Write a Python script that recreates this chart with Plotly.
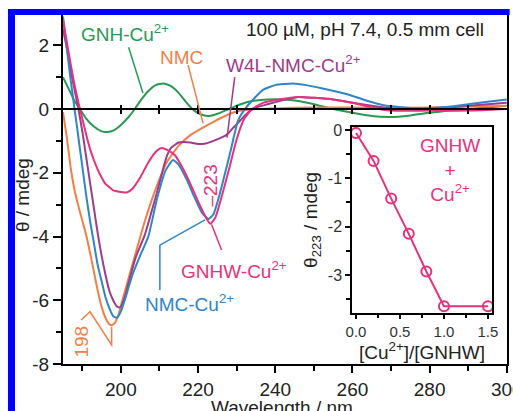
import plotly.graph_objects as go

# ---------------- data ----------------
wl_gnh = [185, 186, 187, 188, 189.4, 191, 193, 195, 196.5, 198, 200, 202, 203.6, 205, 207, 209, 211, 213, 215, 217, 219,
          221, 223, 225, 227, 229, 231, 234, 238, 242, 246, 250, 255, 260, 265, 270, 275, 280, 285, 290, 295, 300]
th_gnh = [1.0, 0.75, 0.5, 0.25, 0.0, -0.3, -0.55, -0.7, -0.72, -0.68, -0.5, -0.25, 0.0, 0.25, 0.55, 0.75, 0.8, 0.72, 0.5,
          0.2, -0.05, -0.18, -0.22, -0.15, -0.05, 0.05, 0.15, 0.25, 0.3, 0.3, 0.25, 0.15, 0.0, -0.12, -0.22, -0.25, -0.2,
          -0.12, -0.05, 0.0, 0.05, 0.1]

wl_nmc = [185, 186, 187, 188, 189, 190, 191, 192, 193, 194, 195, 196, 197, 197.7, 198.5, 199.5, 200.5, 202, 204, 206,
          208, 210, 212, 215, 218, 221, 224, 227, 230, 235, 240, 250, 260, 270, 280, 290, 300]
th_nmc = [-0.1, -0.9, -1.85, -2.55, -3.05, -3.5, -3.95, -4.5, -5.1, -5.7, -6.2, -6.55, -6.75, -6.78, -6.7, -6.4, -5.95,
          -5.3, -4.45, -3.6, -2.85, -2.2, -1.65, -1.15, -0.82, -0.6, -0.4, -0.22, -0.08, 0.0, 0.02, 0.05, 0.05, 0.03,
          0.05, 0.08, 0.1]

wl_w4l = [185, 186, 187, 188, 189, 190, 191, 192, 193, 194, 195, 196, 197, 198, 199, 199.8, 201, 202, 203, 204, 206.2,
          208, 209.6, 211, 212, 213, 215, 218, 220, 222, 224, 226, 227.5, 229, 231, 233, 235, 238, 242, 246, 250, 255,
          260, 265, 270, 275, 280, 285, 290, 295, 300]
th_w4l = [2.5, 1.9, 1.2, 0.6, 0.0, -0.7, -1.5, -2.3, -3.1, -3.9, -4.6, -5.2, -5.7, -6.0, -6.2, -6.22, -5.9, -5.45, -5.0,
          -4.6, -3.95, -3.2, -2.5, -1.85, -1.45, -1.22, -1.05, -1.05, -1.1, -1.08, -1.0, -0.9, -0.8, -0.6, -0.35, -0.1,
          0.05, 0.15, 0.28, 0.38, 0.35, 0.3, 0.2, 0.1, 0.02, 0.0, 0.0, 0.05, 0.1, 0.15, 0.2]

wl_nmccu = [185, 186, 187, 188, 189, 190, 191, 192, 193, 194, 195, 196, 197, 198, 199, 200, 201, 203, 205, 207.1, 209.3,
            211.5, 213.5, 215, 217, 219, 221, 222.7, 224, 225.7, 228.3, 230.4, 232.6, 236.8, 240, 244.6, 248, 252, 259.3,
            264, 268, 275, 280, 285, 290, 295, 300]
th_nmccu = [2.9, 1.9, 0.9, 0.0, -0.9, -1.8, -2.7, -3.5, -4.2, -4.9, -5.4, -5.9, -6.25, -6.5, -6.55, -6.35, -6.0, -5.2,
            -4.6, -4.0, -2.85, -1.95, -1.6, -1.75, -2.2, -2.75, -3.25, -3.45, -3.3, -2.63, -1.38, -0.35, 0.07, 0.6, 0.75,
            0.8, 0.75, 0.65, 0.44, 0.25, 0.12, 0.03, 0.03, 0.07, 0.15, 0.23, 0.3]

wl_gnhw = [185, 186, 187, 188, 189, 190, 191, 192, 193, 194, 195, 196, 197, 198, 200, 201.5, 203, 205, 207, 209, 210.5,
           212, 214, 216, 218, 220, 222, 223.2, 224.5, 226, 228, 230, 232, 234, 237, 241, 246, 250, 255, 260, 265, 270,
           280, 290, 300]
th_gnhw = [2.8, 2.1, 1.4, 0.75, 0.2, -0.3, -0.8, -1.25, -1.6, -1.9, -2.15, -2.35, -2.45, -2.55, -2.6, -2.62, -2.5, -2.15,
           -1.7, -1.35, -1.22, -1.28, -1.45, -1.85, -2.35, -2.9, -3.4, -3.6, -3.4, -2.8, -1.9, -0.95, -0.3, 0.0, 0.2,
           0.3, 0.38, 0.35, 0.3, 0.2, 0.05, -0.05, -0.05, -0.05, 0.0]

ratio = [0.0, 0.2, 0.4, 0.6, 0.8, 1.0, 1.5]
theta223 = [-0.06, -0.64, -1.42, -2.15, -2.93, -3.65, -3.65]

main_xticks = [200, 220, 240, 260, 280, 300]
main_xminor = [190, 210, 230, 250, 270, 290]
main_yticks = [-8, -6, -4, -2, 0, 2]
main_ytext = ["-8", "-6", "-4", "-2", "0", "2"]
main_yminor = [-7, -5, -3, -1, 1]
zero_ticks = [200, 210, 220, 230, 240, 250, 260, 270, 280, 290]
inset_xticks = [0.0, 0.5, 1.0, 1.5]
inset_xtext = ["0.0", "0.5", "1.0", "1.5"]
inset_xminor = [0.25, 0.75, 1.25]
inset_yticks = [0, -1, -2, -3]
inset_ytext = ["0", "-1", "-2", "-3"]
inset_yminor = [-0.5, -1.5, -2.5, -3.5]

# ---------------- styles ----------------
GREEN = "rgb(40,152,82)"
ORANGE = "rgb(242,128,70)"
PURPLE = "rgb(160,58,140)"
BLUE = "rgb(48,132,200)"
PINK = "rgb(230,50,125)"
FONT = "Liberation Sans, Arial, sans-serif"
FS = 19

fig = go.Figure()
series = [
    (wl_gnh, th_gnh, GREEN, "GNH-Cu2+"),
    (wl_nmc, th_nmc, ORANGE, "NMC"),
    (wl_w4l, th_w4l, PURPLE, "W4L-NMC-Cu2+"),
    (wl_nmccu, th_nmccu, BLUE, "NMC-Cu2+"),
    (wl_gnhw, th_gnhw, PINK, "GNHW-Cu2+"),
]
for wl, th, col, name in series:
    fig.add_trace(go.Scatter(x=wl, y=th, mode="lines", name=name,
                             line=dict(color=col, width=2, shape="spline", smoothing=0.5),
                             xaxis="x", yaxis="y", showlegend=False, hoverinfo="skip"))

fig.add_trace(go.Scatter(x=ratio, y=theta223, mode="lines+markers", xaxis="x4", yaxis="y4",
                         line=dict(color=PINK, width=2),
                         marker=dict(symbol="circle-open", size=10, color=PINK, line=dict(width=2)),
                         showlegend=False, hoverinfo="skip"))

XR = [185, 300.05]
YR = [-8, 2.95]
zero_pos = (0 - YR[0]) / (YR[1] - YR[0])

axis_common = dict(showgrid=False, zeroline=False, linecolor="black", linewidth=2, automargin=False,
                   tickcolor="black", tickwidth=2, tickfont=dict(family=FONT, size=FS, color="#222"))

fig.update_layout(
    width=513, height=411, autosize=False,
    margin=dict(l=63, r=6, t=15, b=47, autoexpand=False),
    paper_bgcolor="white", plot_bgcolor="white",
    font=dict(family=FONT, size=FS, color="#222"),
    xaxis=dict(range=XR, domain=[0, 1], anchor="y", showline=True, mirror=False,
               tickmode="array", tickvals=main_xticks, ticks="outside", ticklen=7,
               ticklabeloverflow="allow",
               minor=dict(tickmode="array", tickvals=main_xminor, ticks="outside", ticklen=5,
                          tickcolor="black", tickwidth=2),
               **axis_common),
    yaxis=dict(range=YR, domain=[0, 1], anchor="x", showline=True, mirror=True,
               tickmode="array", tickvals=main_yticks, ticktext=main_ytext, ticks="outside", ticklen=8,
               minor=dict(tickmode="array", tickvals=main_yminor, ticks="outside", ticklen=5,
                          tickcolor="black", tickwidth=2),
               **axis_common),
    xaxis2=dict(range=XR, overlaying="x", anchor="free", position=zero_pos, showline=True, automargin=False,
                linecolor="black", linewidth=2, showgrid=False, zeroline=False,
                tickmode="array", tickvals=zero_ticks, ticks="outside", ticklen=4, tickwidth=2,
                tickcolor="black", showticklabels=False),
    xaxis3=dict(range=XR, overlaying="x", anchor="free", position=zero_pos, showline=False, automargin=False,
                showgrid=False, zeroline=False,
                tickmode="array", tickvals=zero_ticks, ticks="inside", ticklen=4, tickwidth=2,
                tickcolor="black", showticklabels=False),
    xaxis4=dict(range=[-0.045, 1.545], domain=[0.651, 0.966], anchor="y4", showline=True, mirror=True,
                showgrid=False, zeroline=False, linecolor="black", linewidth=1.5, automargin=False,
                tickmode="array", tickvals=inset_xticks, ticktext=inset_xtext, ticks="outside", ticklen=4,
                tickwidth=1.5, tickcolor="black",
                minor=dict(tickmode="array", tickvals=inset_xminor, ticks="outside", ticklen=3,
                           tickcolor="black", tickwidth=1.5),
                tickfont=dict(family=FONT, size=15, color="#333")),
    yaxis4=dict(range=[-3.79, 0.062], domain=[0.146, 0.679], anchor="x4", showline=True, mirror=True,
                showgrid=False, zeroline=False, linecolor="black", linewidth=1.5, automargin=False,
                tickmode="array", tickvals=inset_yticks, ticktext=inset_ytext, ticks="outside", ticklen=5,
                tickwidth=1.5, tickcolor="black",
                minor=dict(tickmode="array", tickvals=inset_yminor, ticks="outside", ticklen=4,
                           tickcolor="black", tickwidth=1.5),
                tickfont=dict(family=FONT, size=16, color="#333")),
)

# dummy traces so overlay axes are drawn
fig.add_trace(go.Scatter(x=[XR[0]], y=[0], xaxis="x2", yaxis="y", mode="markers",
                         marker=dict(opacity=0), showlegend=False, hoverinfo="skip"))
fig.add_trace(go.Scatter(x=[XR[0]], y=[0], xaxis="x3", yaxis="y", mode="markers",
                         marker=dict(opacity=0), showlegend=False, hoverinfo="skip"))

# ---------------- labels ----------------
labels = [
    ("GNH-Cu<sup>2+</sup>", 201.1, 2.38, GREEN, 0),
    ("NMC", 215.8, 1.63, ORANGE, 0),
    ("W4L-NMC-Cu<sup>2+</sup>", 244.8, 1.42, PURPLE, 0),
    ("100 \u00b5M, pH 7.4, 0.5 mm cell", 263.2, 2.48, "#222", 0),
    ("\u2013223", 223.1, -2.4, PINK, -90),
    ("GNHW-Cu<sup>2+</sup>", 229.2, -5.05, PINK, 0),
    ("NMC-Cu<sup>2+</sup>", 217.9, -6.09, BLUE, 0),
    ("198", 189.9, -7.3, ORANGE, -90),
]
for txt, lx, ly, col, ang in labels:
    fig.add_annotation(x=lx, y=ly, xref="x", yref="y", text=txt, showarrow=False, textangle=ang,
                       font=dict(family=FONT, size=FS, color=col), xanchor="center", yanchor="middle")

leaders = [
    ([202.0, 205.7], [1.94, 0.5], GREEN),
    ([217.4, 221.3], [1.38, -0.45], ORANGE),
    ([229.5, 227.5], [1.0, -0.9], PURPLE),
    ([226.1, 223.5], [-4.42, -3.62], PINK),
    ([210.1, 210.1, 221.8], [-5.68, -4.27, -3.48], BLUE),
    ([189.7, 192.0, 197.6, 197.6], [-6.62, -6.36, -7.4, -6.84], ORANGE),
]
for xs, ys, col in leaders:
    path = "M " + " L ".join(f"{a},{b}" for a, b in zip(xs, ys))
    fig.add_shape(type="path", path=path, xref="x", yref="y", line=dict(color=col, width=1.5))

# axis titles and inset text (explicit anchors)
titles = [
    ("\u03b8 / mdeg", -0.0923, 0.484, -90, "#222", "middle"),
    ("Wavelength / nm", 0.493, -0.089, 0, "#222", "top"),
    ("\u03b8<sub>223</sub> / mdeg", 0.561, 0.413, -90, "#222", "middle"),
    ("[Cu<sup>2+</sup>]/[GNHW]", 0.8086, 0.038, 0, "#222", "middle"),
    ("GNHW<br>+<br>Cu<sup>2+</sup>", 0.872, 0.556, 0, PINK, "middle"),
]
for txt, px, py, ang, col, ya in titles:
    fig.add_annotation(x=px, y=py, xref="paper", yref="paper", text=txt, textangle=ang, showarrow=False,
                       xanchor="center", yanchor=ya, font=dict(family=FONT, size=FS, color=col))

# blue frame (decoration)
fig.add_shape(type="rect", xref="paper", yref="paper", x0=-0.1239, x1=-0.1081, y0=-0.14, y1=1.0172,
              fillcolor="rgb(0,0,255)", line=dict(width=0), layer="above")
fig.add_shape(type="rect", xref="paper", yref="paper", x0=-0.1239, x1=1.006, y0=1.0, y1=1.0172,
              fillcolor="rgb(0,0,255)", line=dict(width=0), layer="above")

fig.write_html("out.html", config={"displayModeBar": False},
               post_script="document.body.style.margin='0';document.body.style.padding='0';"
                           "document.documentElement.style.overflow='hidden';")
